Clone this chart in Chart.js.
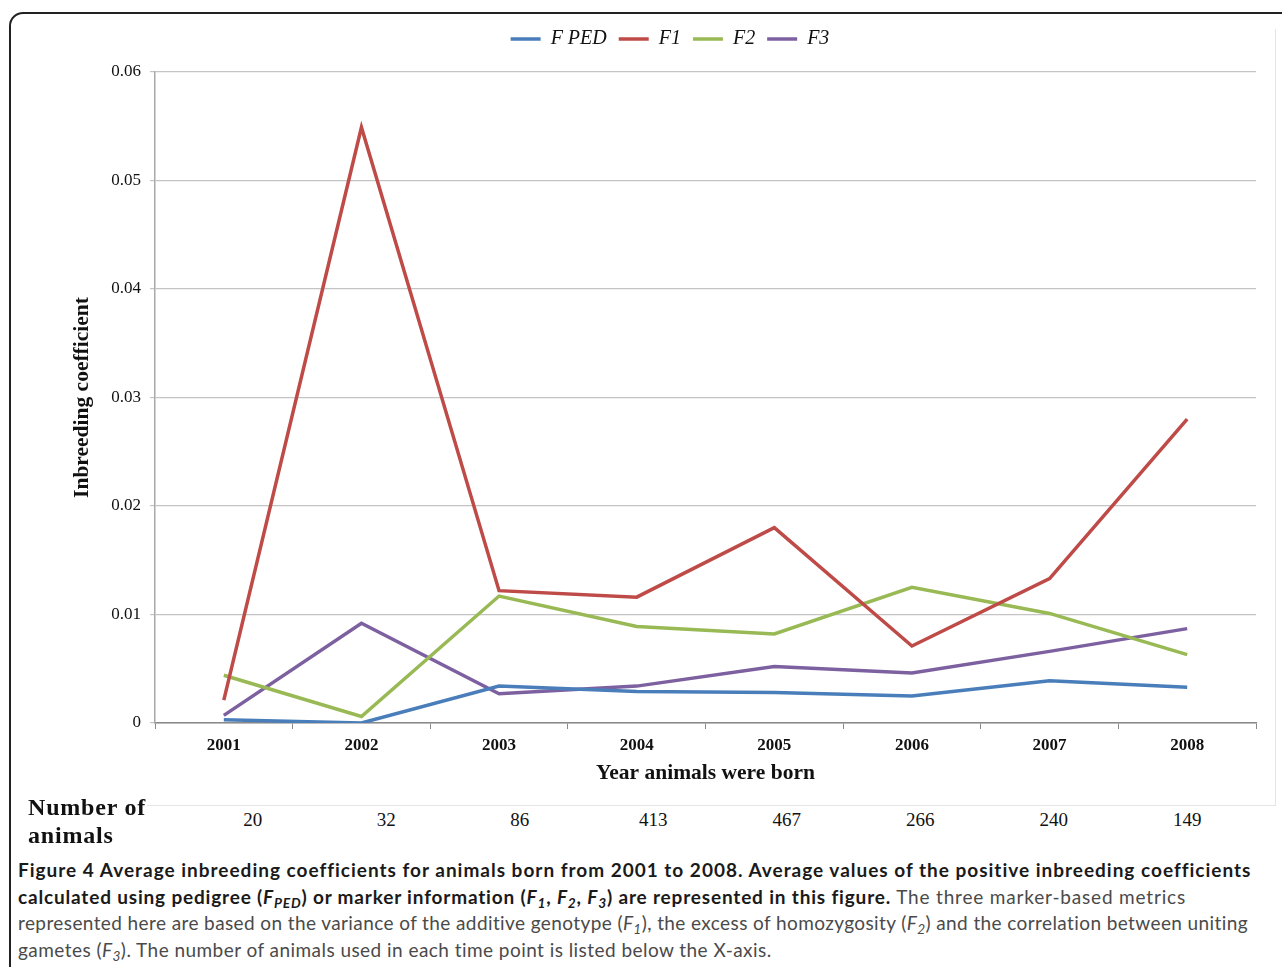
<!DOCTYPE html>
<html>
<head>
<meta charset="utf-8">
<script src="https://cdn.jsdelivr.net/npm/chart.js@4.4.1/dist/chart.umd.min.js"></script>
<style>
  body { margin: 0; background: #fff; width: 1282px; height: 967px; overflow: hidden; position: relative; }
  #frame { position: absolute; left: 9px; top: 12px; width: 1320px; height: 1000px; border: 2px solid #222; border-radius: 14px; box-sizing: border-box; }
  #plotbox { position: absolute; left: 147px; top: 29px; width: 1128px; height: 776px; border-right: 1px solid #e4e4e4; border-bottom: 1px solid #e4e4e4; }
  #chart { position: absolute; left: 0; top: 0; }
  #nlabel { position: absolute; left: 28px; top: 793px; font: bold 24px "Liberation Serif", serif; line-height: 28px; letter-spacing: 0.8px; color: #111; }
  #counts { position: absolute; left: 186px; top: 808px; width: 1068px; display: grid; grid-template-columns: repeat(8, 1fr); font: 19px "Liberation Serif", serif; line-height: 24px; color: #111; text-align: center; }
  #caption { position: absolute; left: 18px; top: 857px; font: 19px Lato, sans-serif; line-height: 26.7px; color: #4a4a4a; }
  #caption div { white-space: nowrap; width: max-content; }
  #caption b { color: #1a1a1a; }
  #caption sub { font-size: 0.72em; vertical-align: -0.3em; line-height: 0; font-style: italic; }
</style>
</head>
<body>
<div id="frame"></div>
<div id="plotbox"></div>
<canvas id="chart" width="1282" height="800"></canvas>
<div id="nlabel">Number of<br>animals</div>
<div id="counts"></div>
<div id="caption">
  <div><b>Figure 4 Average inbreeding coefficients for animals born from 2001 to 2008. Average values of the positive inbreeding coefficients</b></div>
  <div><b>calculated using pedigree (<i>F</i><sub>PED</sub>) or marker information (<i>F</i><sub>1</sub>, <i>F</i><sub>2</sub>, <i>F</i><sub>3</sub>) are represented in this figure.</b> The three marker-based metrics</div>
  <div>represented here are based on the variance of the additive genotype (<i>F</i><sub>1</sub>), the excess of homozygosity (<i>F</i><sub>2</sub>) and the correlation between uniting</div>
  <div>gametes (<i>F</i><sub>3</sub>). The number of animals used in each time point is listed below the X-axis.</div>
</div>
<script>
// data
const years = ["2001", "2002", "2003", "2004", "2005", "2006", "2007", "2008"];
const fPed = [0.0003, 0.0000, 0.0034, 0.0029, 0.0028, 0.0025, 0.0039, 0.0033];
const f1   = [0.0021, 0.0549, 0.0122, 0.0116, 0.0180, 0.0071, 0.0133, 0.0280];
const f2   = [0.0044, 0.0006, 0.0117, 0.0089, 0.0082, 0.0125, 0.0101, 0.0063];
const f3   = [0.0007, 0.0092, 0.0027, 0.0034, 0.0052, 0.0046, 0.0066, 0.0087];
const animalCounts = [20, 32, 86, 413, 467, 266, 240, 149];
const seriesNames = ["F PED", "F1", "F2", "F3"];
const seriesColors = ["#4a7ebb", "#be4b48", "#98b954", "#7d60a0"];

const serif = '"Liberation Serif", "Times New Roman", serif';

document.getElementById("counts").innerHTML =
    animalCounts.map(n => "<div>" + n + "</div>").join("");

const datasets = [fPed, f1, f2, f3].map((vals, i) => ({
    label: seriesNames[i],
    data: vals,
    borderColor: seriesColors[i],
    backgroundColor: seriesColors[i],
    borderWidth: 3.5,
    pointRadius: 0,
    tension: 0,
    fill: false
}));

new Chart(document.getElementById("chart").getContext("2d"), {
    type: "line",
    data: { labels: years, datasets: datasets },
    options: {
        responsive: false,
        animation: false,
        layout: { padding: { left: 66, right: 8, top: 17, bottom: 10 } },
        plugins: {
            legend: {
                position: "top",
                labels: {
                    usePointStyle: true,
                    pointStyle: "line",
                    pointStyleWidth: 30,
                    padding: 12,
                    color: "#111",
                    font: { family: serif, size: 20, style: "italic" }
                }
            },
            tooltip: { enabled: false }
        },
        scales: {
            x: {
                offset: true,
                grid: { offset: true, drawOnChartArea: false, tickLength: 6, color: "#8a8a8a" },
                border: { color: "#8a8a8a", width: 1.5 },
                ticks: { padding: 6, maxRotation: 0, color: "#111", font: { family: serif, size: 17, weight: "bold" } },
                title: { display: true, text: "Year animals were born", color: "#111", font: { family: serif, size: 21.5, weight: "bold" } },
                afterFit: s => { s.height = 67; }
            },
            y: {
                min: 0,
                max: 0.06,
                ticks: { stepSize: 0.01, padding: 9, color: "#111", font: { family: serif, size: 17 } },
                grid: { color: "#c4c4c4", lineWidth: 1.2, tickLength: 5 },
                border: { color: "#a8a8a8", width: 1.5 },
                title: { display: true, text: "Inbreeding coefficient", color: "#111", font: { family: serif, size: 21.5, weight: "bold" } },
                afterFit: s => { s.width = 89; }
            },
            // empty spacers: keep the legend centred and leave a gap under it, as in the original
            spacer: {
                position: "right",
                grid: { display: false },
                ticks: { display: false },
                border: { display: false },
                afterFit: s => { s.width = 18; }
            },
            spacerTop: {
                position: "top",
                grid: { display: false },
                ticks: { display: false },
                border: { display: false },
                afterFit: s => { s.height = 13; }
            }
        }
    }
});

// squeeze each caption line to the width it has in the figure
const lineEnds = [1250, 1186, 1249, 772];
document.querySelectorAll("#caption div").forEach((el, i) => {
    const w = el.getBoundingClientRect().width;
    const target = lineEnds[i] - 18;
    const chars = el.textContent.length;
    el.style.letterSpacing = ((target - w) / chars).toFixed(3) + "px";
});
</script>
</body>
</html>
